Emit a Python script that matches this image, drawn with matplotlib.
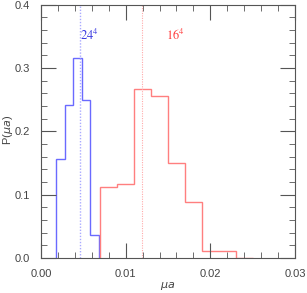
import numpy as np
import matplotlib
matplotlib.use("Agg")
import matplotlib.pyplot as plt
from matplotlib.ticker import MultipleLocator, FormatStrFormatter

# 24^4 histogram (bin edges and fractions)
edges_24 = [0.0018, 0.0028, 0.0038, 0.0048, 0.0058, 0.0068]
p_24 = [0.157, 0.241, 0.316, 0.250, 0.037]
mean_24 = 0.0046

# 16^4 histogram
edges_16 = [0.0070, 0.0090, 0.0110, 0.0130, 0.0150, 0.0170, 0.0190, 0.0210, 0.0230, 0.0250]
p_16 = [0.112, 0.117, 0.2675, 0.2555, 0.150, 0.089, 0.0105, 0.0105, 0.0006]
mean_16 = 0.0119

gray = "#555555"
plt.rcParams["font.family"] = ["Liberation Sans", "DejaVu Sans"]

fig = plt.figure(figsize=(3.07, 2.93), dpi=100)
ax = fig.add_axes([0.1336, 0.1195, 0.8274, 0.864])

ax.axvline(mean_24, color="#aaaaff", lw=1.0, ls=(0, (1, 1.2)))
ax.axvline(mean_16, color="#ffaaaa", lw=0.8, ls=(0, (1, 1.2)))

ax.stairs(p_24, edges_24, color="#6a6aff", lw=1.0, baseline=0)
ax.stairs(p_16, edges_16, color="#ff7f7f", lw=1.0, baseline=0)

ax.text(0.0046, 0.345, r"$\mathrm{24}^4$", color="#3a3ae0", fontsize=9, math_fontfamily="stix")
ax.text(0.0148, 0.345, r"$\mathrm{16}^4$", color="#ff4040", fontsize=9, math_fontfamily="stix")

ax.set_xlim(0, 0.03)
ax.set_ylim(0, 0.4)
ax.xaxis.set_major_locator(MultipleLocator(0.01))
ax.xaxis.set_minor_locator(MultipleLocator(0.002))
ax.yaxis.set_major_locator(MultipleLocator(0.1))
ax.yaxis.set_minor_locator(MultipleLocator(0.02))
ax.xaxis.set_major_formatter(FormatStrFormatter("%.2f"))
ax.yaxis.set_major_formatter(FormatStrFormatter("%.1f"))

ax.tick_params(which="both", direction="in", top=True, right=True, colors=gray,
               labelsize=8, labelcolor="#444444")
ax.tick_params(which="major", length=11, width=0.8, pad=8)
ax.tick_params(which="minor", length=4, width=0.6)
for s in ax.spines.values():
    s.set_color(gray)
    s.set_linewidth(0.8)

ax.set_xlabel(r"$\mu a$", fontsize=8, color="#444444", va="center")
ax.set_ylabel(r"P($\mu a$)", fontsize=8, color="#444444", va="center")
ax.xaxis.set_label_coords(0.5, -0.11)
ax.yaxis.set_label_coords(-0.13, 0.505)

fig.savefig("out.png", dpi=100)
